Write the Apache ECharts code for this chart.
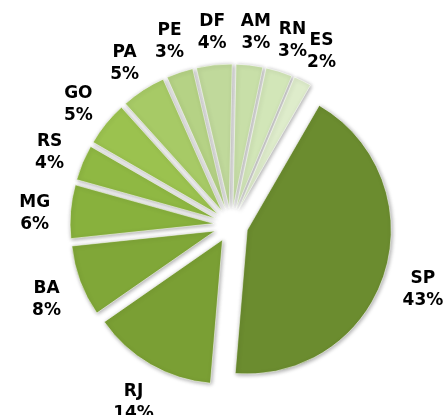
<!DOCTYPE html>
<html>
<head>
<meta charset="utf-8">
<script src="https://cdn.jsdelivr.net/npm/echarts@6/dist/echarts.min.js"></script>
<style>
html,body{margin:0;padding:0;background:#fff;}
#chart{width:445px;height:415px;}
</style>
</head>
<body>
<div id="chart"></div>
<script>
const categories = ['SP', 'RJ', 'BA', 'MG', 'RS', 'GO', 'PA', 'PE', 'DF', 'AM', 'RN', 'ES'];
const values = [43, 14, 8, 6, 4, 5, 5, 3, 4, 3, 3, 2];
const sliceColors = ['#6b8c2f', '#7a9f34', '#80a738', '#88b13d', '#8fb843', '#9bc24f', '#a7ca66', '#b5d285', '#c0d99b', '#c8dfa8', '#d2e6b8', '#deeccb'];

const chart = echarts.init(document.getElementById('chart'), null, {renderer: 'canvas'});

const pieData = categories.map((name, i) => ({
  name: name,
  value: values[i],
  selected: true,
  itemStyle: {
    color: sliceColors[i],
    borderColor: 'rgba(255,255,255,0.55)',
    borderWidth: 1,
    shadowBlur: 4,
    shadowColor: 'rgba(0,0,0,0.35)',
    shadowOffsetX: 1,
    shadowOffsetY: 1
  }
}));

const labelData = categories.map((name, i) => ({ name: name, value: values[i] }));

chart.setOption({
  animation: false,
  series: [
    {
      type: 'pie',
      center: [231, 225],
      radius: 144,
      startAngle: 60,
      clockwise: true,
      selectedMode: 'multiple',
      selectedOffset: 17,
      silent: true,
      label: { show: false },
      labelLine: { show: false },
      select: { itemStyle: { borderColor: 'rgba(255,255,255,0.55)', borderWidth: 1 } },
      data: pieData
    },
    {
      type: 'pie',
      center: [233, 230],
      radius: [185, 207],
      startAngle: 60,
      clockwise: true,
      silent: true,
      avoidLabelOverlap: false,
      itemStyle: { color: 'rgba(0,0,0,0)' },
      label: {
        show: true,
        position: 'inside',
        formatter: '{b}\n{c}%',
        fontFamily: 'DejaVu Sans',
        fontWeight: 'bold',
        fontSize: 17,
        lineHeight: 22,
        color: '#000',
        align: 'center'
      },
      labelLine: { show: false },
      data: labelData
    }
  ]
});
</script>
</body>
</html>
